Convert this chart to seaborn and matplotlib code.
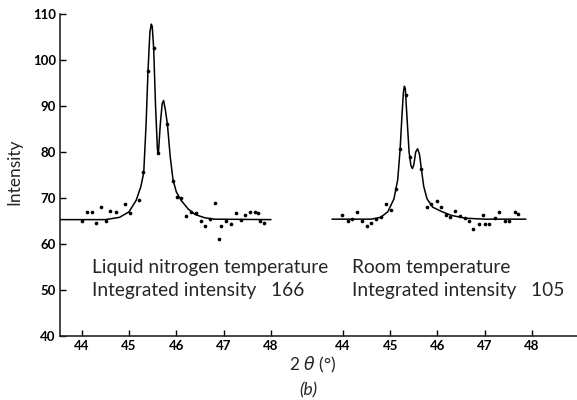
import numpy as np
import pandas as pd
import seaborn as sns
import matplotlib.pyplot as plt

# measured points, liquid nitrogen temperature (left trace)
ln_x = [44.0, 44.11, 44.21, 44.31, 44.41, 44.51, 44.60, 44.72, 44.91, 45.02, 45.20, 45.30,
        45.40, 45.52, 45.61, 45.81, 45.92, 46.01, 46.10, 46.20, 46.32, 46.41, 46.52, 46.61,
        46.71, 46.81, 46.90, 46.95, 47.06, 47.15, 47.26, 47.36, 47.45, 47.56, 47.66, 47.72,
        47.77, 47.86]
ln_y = [65.1, 67.0, 67.0, 64.5, 68.1, 65.0, 67.2, 67.0, 68.7, 66.7, 69.6, 75.7,
        97.6, 102.6, 79.8, 86.1, 73.7, 70.3, 69.9, 66.1, 67.0, 66.8, 65.1, 63.9,
        65.5, 69.0, 61.1, 63.9, 65.1, 64.3, 66.8, 65.2, 66.2, 66.9, 66.9, 66.8,
        65.0, 64.5]

# smooth curve drawn through them
ln_cx = [43.54, 44.5, 44.8, 45.0, 45.15, 45.25, 45.31, 45.36, 45.40, 45.44, 45.47, 45.49,
         45.52, 45.56, 45.60, 45.62, 45.66, 45.70, 45.73, 45.77, 45.81, 45.87, 45.93, 46.0,
         46.1, 46.25, 46.4, 46.6, 46.8, 48.0]
ln_cy = [65.3, 65.3, 65.8, 67.0, 69.5, 72.5, 75.5, 86.0, 97.5, 106.0, 107.8, 107.3,
         102.6, 90.0, 80.5, 79.6, 86.0, 90.5, 91.2, 89.0, 86.1, 79.0, 73.9, 71.3,
         69.5, 67.6, 66.4, 65.7, 65.4, 65.3]

# room temperature (right trace)
rt_x = [43.99, 44.10, 44.20, 44.30, 44.41, 44.50, 44.60, 44.70, 44.80, 44.91, 45.01, 45.12,
        45.21, 45.34, 45.41, 45.66, 45.77, 45.86, 45.98, 46.07, 46.18, 46.27, 46.37, 46.47,
        46.58, 46.67, 46.76, 46.87, 46.96, 47.0, 47.1, 47.21, 47.31, 47.42, 47.51, 47.63,
        47.71]
rt_y = [66.2, 65.1, 65.5, 66.9, 65.0, 64.0, 64.5, 65.5, 65.9, 68.8, 67.4, 71.9,
        80.6, 92.3, 79.0, 76.2, 68.0, 68.6, 69.4, 68.1, 66.3, 65.9, 67.2, 66.1,
        65.6, 65.0, 63.2, 64.3, 66.4, 64.3, 64.3, 65.6, 66.9, 65.0, 65.1, 66.9,
        66.5]

rt_cx = [43.77, 44.6, 44.8, 44.95, 45.08, 45.16, 45.21, 45.25, 45.28, 45.30, 45.32, 45.35,
         45.40, 45.44, 45.47, 45.50, 45.54, 45.58, 45.62, 45.66, 45.71, 45.78, 45.9, 46.1,
         46.3, 46.6, 47.0, 47.87]
rt_cy = [65.4, 65.4, 65.8, 67.0, 69.8, 74.0, 80.5, 88.0, 93.0, 94.3, 93.8, 88.5,
         80.0, 77.0, 76.4, 77.2, 80.0, 80.7, 79.5, 76.3, 72.5, 69.8, 68.0, 67.0,
         66.2, 65.6, 65.4, 65.4]

ticks = [44, 45, 46, 47, 48]
shift = 5.52  # right trace sits further along the same axis

sns.set_style("ticks")
plt.rcParams['font.family'] = ['Lato', 'DejaVu Sans']

fig = plt.figure(figsize=(5.77, 4.0), dpi=100)
ax = fig.add_axes([60 / 577, 64 / 400, 517 / 577, 322 / 400])

left_curve = pd.DataFrame({'x': ln_cx, 'y': ln_cy})
right_curve = pd.DataFrame({'x': np.array(rt_cx) + shift, 'y': rt_cy})
sns.lineplot(data=left_curve, x='x', y='y', sort=False, color='black', lw=1.1, ax=ax)
sns.lineplot(data=right_curve, x='x', y='y', sort=False, color='black', lw=1.1, ax=ax)

left_pts = pd.DataFrame({'x': ln_x, 'y': ln_y})
right_pts = pd.DataFrame({'x': np.array(rt_x) + shift, 'y': rt_y})
sns.scatterplot(data=left_pts, x='x', y='y', color='black', s=7, linewidth=0, ax=ax)
sns.scatterplot(data=right_pts, x='x', y='y', color='black', s=7, linewidth=0, ax=ax)

ax.set_xlim(43.54, 54.47)
ax.set_ylim(40, 110)
ax.set_xticks(ticks + [t + shift for t in ticks])
ax.set_xticklabels([str(t) for t in ticks] * 2)
ax.set_yticks(range(40, 111, 10))
ax.tick_params(direction='in', length=4, width=1, colors='black', labelsize=9.5, pad=3)
for lab in ax.get_xticklabels() + ax.get_yticklabels():
    lab.set_fontweight('bold')
sns.despine(ax=ax)
ax.spines['left'].set_linewidth(1.2)
ax.spines['bottom'].set_linewidth(1.2)

ax.set_xlabel('')
ax.set_ylabel('Intensity', fontsize=12.5)
ax.yaxis.set_label_coords(-0.072, 0.51)

ax.text(44.22, 54.8, 'Liquid nitrogen temperature', fontsize=13.8, va='center')
ax.text(44.22, 49.8, 'Integrated intensity   166', fontsize=13.8, va='center')
ax.text(49.71, 54.8, 'Room temperature', fontsize=13.8, va='center')
ax.text(49.71, 49.8, 'Integrated intensity   105', fontsize=13.8, va='center')

fig.text(313 / 577, 1 - 365 / 400, r'2 $\theta$ (°)', fontsize=12.5, ha='center', va='center')
fig.text(308 / 577, 1 - 390 / 400, '(b)', fontsize=12.5, ha='center', va='center', style='italic')

fig.savefig('out.png', dpi=100)
